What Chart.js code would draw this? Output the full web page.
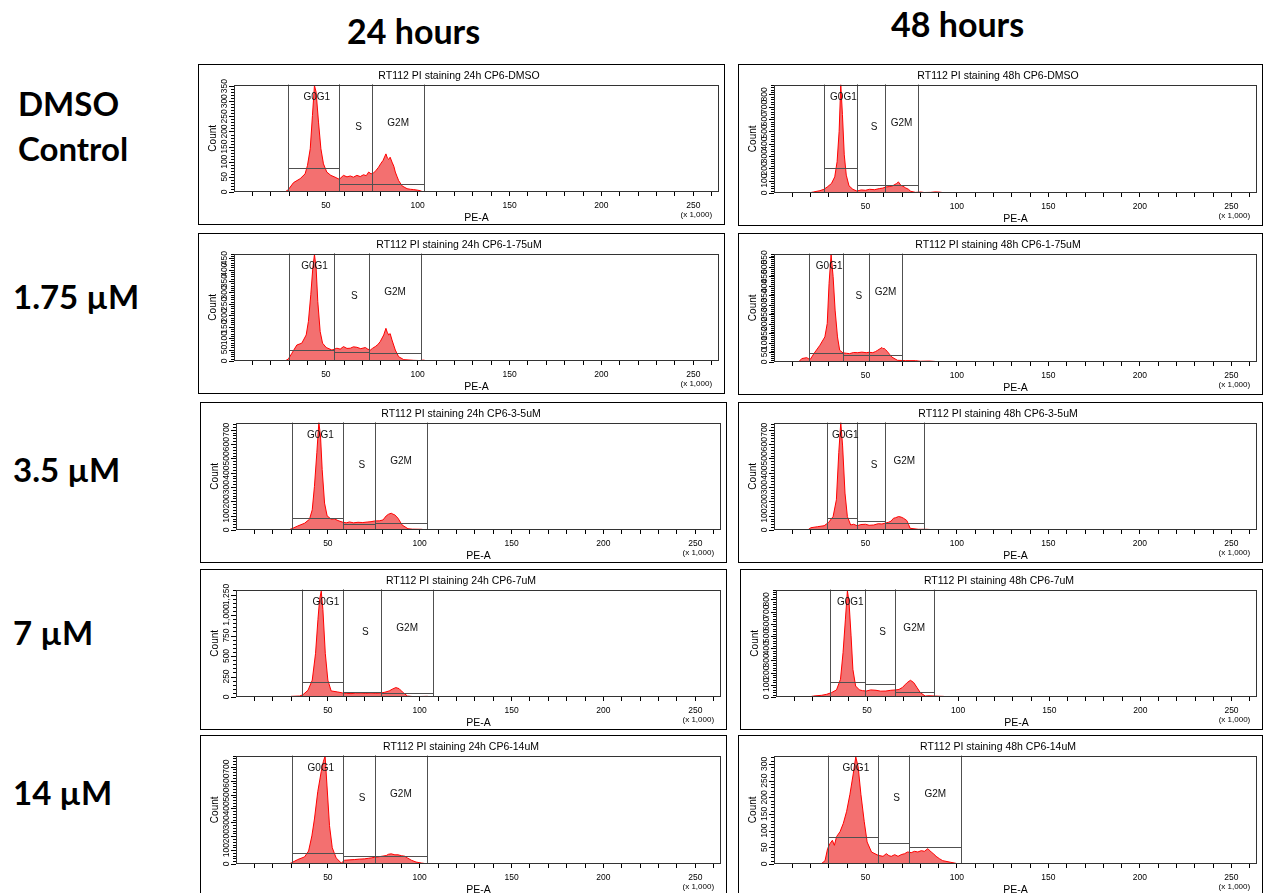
<!DOCTYPE html>
<html>
<head>
<meta charset="utf-8">
<script src="https://cdn.jsdelivr.net/npm/chart.js@4.4.1/dist/chart.umd.min.js"></script>
<style>
  html, body { margin: 0; padding: 0; background: #fff; }
  body { width: 1265px; height: 893px; overflow: hidden; position: relative; font-family: Lato, "Open Sans", sans-serif; }
  .hdr { position: absolute; font-weight: 700; font-size: 33px; line-height: 38px; color: #000; white-space: nowrap; }
  .col { font-size: 34px; }
  .panel { position: absolute; border: 1px solid #000; box-sizing: border-box; background: #fff; }
  .panel canvas { display: block; }
</style>
</head>
<body>
<div class="hdr col" style="left:347px;top:12px">24 hours</div>
<div class="hdr col" style="left:891px;top:5px">48 hours</div>
<div class="hdr" style="left:18px;top:84px">DMSO</div>
<div class="hdr" style="left:18px;top:129px">Control</div>
<div class="hdr" style="left:13px;top:277px">1.75 µM</div>
<div class="hdr" style="left:13px;top:450px">3.5 µM</div>
<div class="hdr" style="left:13px;top:613px">7 µM</div>
<div class="hdr" style="left:13px;top:773px">14 µM</div>

<script>
// ===================== Data (PE-A in x1,000, counts) =====================
const h24DMSO = [[27.8,0],[29.6,8],[32.4,31],[36,44],[38.7,60],[40,88],[41.5,143],[42.7,253],[43.8,352],[44.7,330],[46,231],[47.3,143],[48.7,93],[50.5,66],[52.7,55],[55,49],[57.3,42],[59.6,55],[61.5,50],[63.3,53],[65,49],[66.9,55],[68.7,51],[70.5,57],[72,54],[73.3,66],[74.6,60],[76,63],[77.4,72],[78.7,82],[80,95],[81.1,104],[82.7,126],[83.5,112],[84.2,108],[85,115],[86,99],[87,85],[87.8,66],[88.7,52],[89.6,38],[91.5,20],[94.2,11],[96,9],[97.8,8],[100,6],[101.5,4],[102.9,0]];
const h48DMSO = [[18.8,0],[21.5,8],[25.1,19],[27.3,30],[29.1,49],[31.4,77],[33.2,131],[34.5,255],[35.6,501],[36.5,880],[37.4,638],[38.4,310],[39.5,145],[41,58],[43.1,30],[45.3,16],[47.7,25],[50,22],[52.2,30],[55,27],[57.6,36],[59.5,40],[61.2,49],[63,52],[64.8,58],[67,77],[68,90],[69.3,63],[70.5,55],[72,41],[73.5,30],[74.7,14],[77.4,5],[80.1,8],[82,4],[85.6,5],[88,9],[90.1,8],[92,4],[94.6,3],[95.5,0]];
const h24_175 = [[27.8,0],[29.6,9],[31.5,34],[34.2,70],[36.9,78],[39.3,114],[40.5,173],[41.8,290],[42.9,407],[43.8,466],[44.7,407],[45.6,261],[46.9,129],[48.2,78],[50.2,59],[53.3,48],[56,56],[57.8,52],[59.6,63],[61.5,55],[63.3,56],[65,62],[66.9,60],[69,54],[71.5,59],[72.8,52],[74.2,48],[75.5,56],[76.9,63],[78.3,72],[79.6,85],[81.5,114],[82.7,143],[83.4,126],[84.2,114],[85,120],[86,92],[87.8,48],[89.6,19],[92.4,6],[97.8,3],[101,2],[103,4],[105,1],[106,0]];
const h48_175 = [[13.4,0],[15.2,18],[17.9,23],[19.7,12],[21.8,44],[25.1,88],[27.8,132],[29.1,203],[30.1,414],[31.2,564],[32.3,450],[33.4,273],[34.7,132],[35.9,62],[37.7,48],[39.5,46],[41.3,44],[43.5,50],[45.8,49],[48,52],[50.4,49],[52,51],[54,49],[55.5,55],[56.7,62],[58,70],[59,76],[59.6,70],[60.3,71],[61,65],[62.1,53],[63.2,40],[64.4,26],[67.5,9],[70,8],[72,7],[77.4,7],[80,4],[84.7,5],[88,3],[90.1,0]];
const h24_35 = [[28.5,0],[30.9,12],[33.6,28],[37.3,47],[40,75],[41.5,141],[42.7,305],[44,540],[45.1,751],[46,657],[46.9,423],[48.2,188],[49.6,99],[51.8,75],[53.5,78],[55.5,66],[58.2,54],[60,50],[61.8,56],[64,50],[66.4,54],[69,52],[71.8,56],[73.5,58],[75.5,63],[78,64],[80,70],[81.8,99],[83,110],[84.5,117],[85.5,110],[86.4,106],[88.2,82],[90.4,35],[93.6,9],[96,6],[100.9,5],[103.6,0]];
const h48_35 = [[18.4,0],[20.2,16],[23.8,23],[27.4,30],[29.8,52],[32.3,94],[34.1,211],[35.4,540],[36.5,751],[37.5,587],[38.8,258],[40.1,94],[41.9,35],[43.5,40],[45.5,30],[47.5,38],[50,40],[52,33],[54.5,35],[57,44],[59,42],[60.8,48],[62.6,54],[64,62],[65.3,82],[66.5,86],[68.1,94],[69.5,90],[70.8,82],[72.6,66],[73.5,40],[74.4,12],[78.9,5],[83.4,5],[86,3],[89.7,2],[91.5,0]];
const h24_7 = [[29.2,0],[30.1,8],[34.7,12],[36.5,29],[39.2,82],[41.5,205],[43.3,533],[44.6,943],[45.5,1189],[46.4,1291],[47.3,1066],[48.6,533],[50,205],[51.8,74],[55.4,61],[58.1,49],[60,45],[62.6,41],[65,47],[68,49],[70.5,44],[73.5,49],[76,45],[78.9,49],[81,58],[83.4,74],[85,95],[87,115],[88.8,102],[90.6,61],[93.3,12],[96.9,4],[100,6],[104.2,8],[105,0]];
const h48_7 = [[17.9,0],[20.6,8],[25.1,14],[27.8,22],[30.5,36],[33.2,58],[35.4,145],[36.8,364],[38.1,638],[39.2,871],[40.1,775],[41.2,501],[42.2,227],[43.7,90],[45.8,58],[47.5,52],[49.5,49],[52,58],[54.9,55],[57.5,48],[60.3,49],[63,55],[65.7,58],[67.5,62],[69.3,77],[70.8,100],[72,118],[73.8,137],[75.6,118],[77.4,77],[79.2,36],[81.9,8],[84,10],[87.4,8],[90,6],[91.9,5],[92.5,0]];
const h24_14 = [[28.5,0],[30,7],[33.6,32],[37.3,51],[39.5,93],[41.3,202],[42.7,324],[44.5,520],[46.4,666],[47.6,739],[48.5,776],[49.5,568],[50.9,276],[52.4,117],[54.5,44],[57.3,7],[59.1,27],[62,30],[64.5,32],[67,35],[70,37],[72,41],[73.6,44],[75.5,48],[77.3,51],[79.5,56],[81.8,61],[83,70],[84.5,73],[86.5,66],[88.2,66],[90,60],[91.8,56],[93.5,42],[95.5,27],[98,14],[100.9,7],[104.5,0]];
const h48_14 = [[25.7,0],[27.9,10],[29.3,46],[30.6,61],[31.9,71],[33,56],[34.2,82],[36.1,97],[37.9,122],[39.7,158],[41.5,209],[43.3,270],[44.7,321],[46,291],[47.5,209],[49.3,128],[50.9,66],[53.3,36],[56.9,26],[59.6,23],[61.4,31],[62.8,25],[64.1,23],[66,28],[67.8,23],[69.5,28],[71.4,31],[73,36],[75,34],[76.8,38],[78.6,36],[80.5,40],[82.2,38],[84.1,46],[85.9,36],[87.3,30],[88.6,23],[90.4,16],[92.2,10],[96.7,5],[99.5,2],[100.7,0]];

// gates: [from, to, bar level]  order G0G1, S, G2M
const g24DMSO = [[29.6,57.3,80],[57.3,75.1,27],[75.1,103.6,25]];
const g48DMSO = [[27.3,45.3,200],[45.3,60.8,63],[60.8,78.7,63]];
const g24_175 = [[30.2,54.2,47],[54.2,73.6,38],[73.6,101.8,34]];
const g48_175 = [[19.3,37.7,48],[37.7,51.8,37],[51.8,70.2,37]];
const g24_35 = [[30.4,58.2,82],[58.2,75.5,42],[75.5,104.2,52]];
const g48_35 = [[29.2,45.5,82],[45.5,60.6,63],[60.6,81.8,47]];
const g24_7 = [[36.1,58.5,180],[58.5,79.1,61],[79.1,107.2,53]];
const g48_7 = [[29.6,48.6,126],[48.6,65.2,110],[65.2,86.5,41]];
const g24_14 = [[30.5,58.5,76],[58.5,75.5,61],[75.5,104,56]];
const g48_14 = [[29.3,56.9,82],[56.9,73.9,63],[73.9,102.4,51]];

const gateNames = ['G0G1', 'S', 'G2M'];
const panelTitles = [
  'RT112 PI staining 24h CP6-DMSO', 'RT112 PI staining 48h CP6-DMSO',
  'RT112 PI staining 24h CP6-1-75uM', 'RT112 PI staining 48h CP6-1-75uM',
  'RT112 PI staining 24h CP6-3-5uM', 'RT112 PI staining 48h CP6-3-5uM',
  'RT112 PI staining 24h CP6-7uM', 'RT112 PI staining 48h CP6-7uM',
  'RT112 PI staining 24h CP6-14uM', 'RT112 PI staining 48h CP6-14uM'
];
const yMaxes = [355, 880, 470, 570, 750, 750, 1310, 880, 780, 325];
const yMajor = [50, 100, 50, 50, 100, 100, 250, 100, 100, 50];
const yMinor = [10, 20, 10, 10, 20, 20, 50, 20, 20, 10];
const xTickLabels = [50, 100, 150, 200, 250];

const histograms = [h24DMSO, h48DMSO, h24_175, h48_175, h24_35, h48_35, h24_7, h48_7, h24_14, h48_14];
const gates = [g24DMSO, g48DMSO, g24_175, g48_175, g24_35, g48_35, g24_7, g48_7, g24_14, g48_14];

// panel boxes on the page: left, top, width, height
const boxes = [
  [198, 64, 527, 161], [738, 64, 525, 162],
  [198, 233, 527, 161], [738, 233, 525, 162],
  [200, 402, 527, 161], [738, 402, 525, 161],
  [200, 569, 527, 161], [740, 569, 523, 161],
  [200, 735, 527, 162], [738, 735, 525, 162]
];

const FONT = '"Liberation Sans", Arial, sans-serif';
Chart.defaults.font.family = FONT;
Chart.defaults.color = '#000';

// ===================== FACS decorations (gates, y ticks, frame) =====================
const facsPlugin = {
  id: 'facs',
  afterDatasetsDraw(chart, args, opts) {
    const ctx = chart.ctx;
    const a = chart.chartArea;
    const x = chart.scales.x;
    const y = chart.scales.y;
    ctx.save();

    // gates
    ctx.strokeStyle = '#505050';
    ctx.lineWidth = 1;
    opts.gates.forEach(function (g) {
      const x0 = Math.round(x.getPixelForValue(g[0])) + 0.5;
      const x1 = Math.round(x.getPixelForValue(g[1])) + 0.5;
      const py = Math.round(y.getPixelForValue(g[2])) + 0.5;
      ctx.beginPath();
      ctx.moveTo(x0, a.top); ctx.lineTo(x0, a.bottom);
      ctx.moveTo(x1, a.top); ctx.lineTo(x1, a.bottom);
      ctx.moveTo(x0, py); ctx.lineTo(x1, py);
      ctx.stroke();
    });

    // gate names
    ctx.fillStyle = '#111';
    ctx.font = '10px ' + FONT;
    ctx.textAlign = 'center';
    ctx.textBaseline = 'middle';
    const labelDy = [13, 43, 39];
    const labelDx = [3, 3, 0];
    opts.gates.forEach(function (g, i) {
      const cx = (x.getPixelForValue(g[0]) + x.getPixelForValue(g[1])) / 2 + labelDx[i];
      ctx.fillText(gateNames[i], cx, a.top + labelDy[i]);
    });

    // frame
    ctx.strokeStyle = '#333';
    ctx.strokeRect(Math.round(a.left) + 0.5, Math.round(a.top) + 0.5,
      Math.round(a.width) - 1, Math.round(a.height) - 1);

    // y ticks + rotated labels
    ctx.strokeStyle = '#000';
    ctx.font = '8.5px ' + FONT;
    ctx.fillStyle = '#000';
    y.ticks.forEach(function (t) {
      const py = Math.round(y.getPixelForValue(t.value)) + 0.5;
      const major = t.value % opts.major === 0;
      ctx.beginPath();
      ctx.moveTo(a.left - (major ? 5 : 3), py);
      ctx.lineTo(a.left, py);
      ctx.stroke();
      if (major) {
        ctx.save();
        ctx.translate(a.left - 9, y.getPixelForValue(t.value));
        ctx.rotate(-Math.PI / 2);
        ctx.fillText(t.value.toLocaleString('en-US'), 0, 0);
        ctx.restore();
      }
    });

    // x multiplier note
    ctx.font = '8px ' + FONT;
    ctx.fillText('(x 1,000)', x.getPixelForValue(250) + 3, a.bottom + 23);
    ctx.restore();
  }
};

// ===================== Panels =====================
function makePanel(i) {
  const b = boxes[i];
  const div = document.createElement('div');
  div.className = 'panel';
  div.style.left = b[0] + 'px';
  div.style.top = b[1] + 'px';
  div.style.width = b[2] + 'px';
  div.style.height = b[3] + 'px';
  const canvas = document.createElement('canvas');
  canvas.width = b[2] - 2;
  canvas.height = b[3] - 2;
  div.appendChild(canvas);
  document.body.appendChild(div);

  new Chart(canvas, {
    type: 'line',
    data: {
      datasets: [{
        data: histograms[i].map(function (p) { return { x: p[0], y: p[1] }; }),
        borderColor: '#ff0000',
        borderWidth: 1,
        backgroundColor: '#f37070',
        fill: 'origin',
        pointRadius: 0,
        tension: 0
      }]
    },
    options: {
      responsive: false,
      animation: false,
      devicePixelRatio: 1,
      layout: { padding: { left: 0, right: 5, top: 0, bottom: 0 } },
      scales: {
        x: {
          type: 'linear',
          min: 0,
          max: 264,
          afterBuildTicks: function (s) {
            const t = [];
            for (let v = 10; v <= 260; v += 10) t.push({ value: v });
            s.ticks = t;
          },
          afterFit: function (s) { s.height = 32; },
          ticks: {
            autoSkip: false,
            maxRotation: 0,
            padding: 5,
            font: { size: 8.5 },
            callback: function (v) { return xTickLabels.indexOf(v) >= 0 ? String(v) : ''; }
          },
          grid: { display: true, drawOnChartArea: false, drawTicks: true, tickLength: 4, color: '#000' },
          border: { display: false },
          title: { display: true, text: 'PE-A', font: { size: 10.5 }, padding: { top: 0, bottom: 0 } }
        },
        y: {
          min: 0,
          max: yMaxes[i],
          afterBuildTicks: function (s) {
            const t = [];
            for (let v = 0; v <= yMaxes[i]; v += yMinor[i]) t.push({ value: v });
            s.ticks = t;
          },
          afterFit: function (s) { s.width = 35; },
          ticks: { display: false },
          grid: { display: false },
          border: { display: false },
          title: { display: true, text: 'Count', font: { size: 10 }, padding: { top: 8, bottom: 0 } }
        }
      },
      plugins: {
        legend: { display: false },
        tooltip: { enabled: false },
        title: {
          display: true,
          text: panelTitles[i],
          font: { size: 10.5, weight: 'normal' },
          padding: { top: 5, bottom: 2 }
        },
        facs: { gates: gates[i], major: yMajor[i] }
      }
    },
    plugins: [facsPlugin]
  });
}

for (let i = 0; i < boxes.length; i++) makePanel(i);
</script>
</body>
</html>
